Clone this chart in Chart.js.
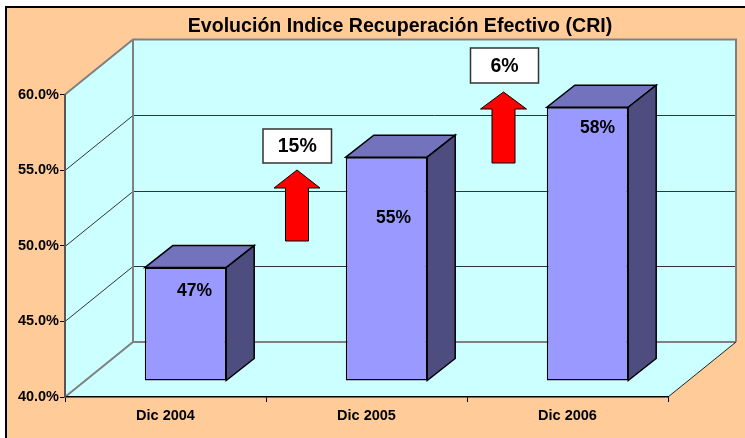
<!DOCTYPE html>
<html><head><meta charset="utf-8">
<style>html,body{margin:0;padding:0;background:#fff}canvas{display:block}</style>
<script src="https://cdn.jsdelivr.net/npm/chart.js@4"></script>
</head><body>
<canvas id="c" width="745" height="438"></canvas>
<script>
const chartTitle = 'Evolución Indice Recuperación Efectivo (CRI)';
const categories = ['Dic 2004', 'Dic 2005', 'Dic 2006'];
const values = [47.5, 54.8, 58.1];
const valueLabels = ['47%', '55%', '58%'];
const growthLabels = ['15%', '6%'];
const axisMin = 40;
const axisMax = 60;

const FONT = 'Arial, "Liberation Sans", sans-serif';
const WALL = {dx: 68, dy: -55};
const FRONT = {dx: 20, dy: -16};
const DEPTH = {dx: 28, dy: -22};
const LABEL_OFFSETS = [{x: 9, y: 24}, {x: 7, y: 61}, {x: 10, y: 21}];
const CALLOUTS = [
  {box: [263, 129, 68.5, 34], tip: [297, 170], head: 23, base: 188, shaft: 11.5, bottom: 241},
  {box: [470.5, 48, 68, 35], tip: [503.5, 92], head: 23, base: 109, shaft: 11.5, bottom: 163}
];

function poly(ctx, pts) {
  ctx.beginPath();
  pts.forEach((p, i) => i ? ctx.lineTo(p[0], p[1]) : ctx.moveTo(p[0], p[1]));
  ctx.closePath();
}

const scene = {
  id: 'scene',
  afterLayout(chart) {
    chart.titleBlock.left = 55;
    chart.titleBlock.right = 745;
  },
  beforeDraw(chart) {
    const {ctx, width, height, chartArea: a, scales: {y}} = chart;
    ctx.save();
    ctx.fillStyle = '#fff'; ctx.fillRect(0, 0, width, height);
    ctx.fillStyle = '#FFCC99'; ctx.fillRect(5, 6, width - 5, height - 6);
    ctx.fillStyle = '#000';
    ctx.fillRect(5, 6, width - 5, 2);
    ctx.fillRect(5, 6, 2, height - 6);

    const L = a.left, R = a.right, T = a.top, B = a.bottom;
    const bL = L + WALL.dx, bR = R + WALL.dx, bT = T + WALL.dy, bB = B + WALL.dy;
    ctx.fillStyle = '#CCFFFF';
    poly(ctx, [[bL, bT], [bR, bT], [bR, bB], [R, B], [L, B], [L, T]]);
    ctx.fill();

    // grid lines on side and back walls
    ctx.strokeStyle = '#333'; ctx.lineWidth = 1;
    y.ticks.forEach(t => {
      if (t.value === y.min || t.value === y.max) return;
      const py = Math.round(y.getPixelForValue(t.value));
      ctx.beginPath();
      ctx.moveTo(L, py + .5);
      ctx.lineTo(bL, py + WALL.dy + .5);
      ctx.lineTo(bR, py + WALL.dy + .5);
      ctx.stroke();
    });
    // wall frame
    ctx.strokeStyle = '#808080'; ctx.lineWidth = 2;
    ctx.beginPath();
    ctx.moveTo(L, B); ctx.lineTo(bL, bB); ctx.lineTo(bR, bB);
    ctx.moveTo(L, T); ctx.lineTo(bL, bT); ctx.lineTo(bR, bT); ctx.lineTo(bR, bB);
    ctx.moveTo(bL, bT); ctx.lineTo(bL, bB);
    ctx.stroke();
    ctx.strokeStyle = '#222'; ctx.lineWidth = 1;
    ctx.beginPath(); ctx.moveTo(R, B); ctx.lineTo(bR, bB); ctx.stroke();
    ctx.restore();
  },
  beforeDatasetsDraw(chart) {
    chart.ctx.save();
    chart.ctx.translate(FRONT.dx, FRONT.dy);
  },
  afterDatasetsDraw(chart) {
    const ctx = chart.ctx;
    const bars = chart.getDatasetMeta(0).data;
    ctx.lineWidth = 1.5; ctx.strokeStyle = '#000'; ctx.lineJoin = 'miter';
    bars.forEach(b => {
      const p = b.getProps(['x', 'y', 'base', 'width'], true);
      const l = p.x - p.width / 2, r = p.x + p.width / 2;
      ctx.fillStyle = '#7373BD';
      poly(ctx, [[l, p.y], [l + DEPTH.dx, p.y + DEPTH.dy], [r + DEPTH.dx, p.y + DEPTH.dy], [r, p.y]]);
      ctx.fill(); ctx.stroke();
      ctx.fillStyle = '#4D4D7F';
      poly(ctx, [[r, p.y], [r + DEPTH.dx, p.y + DEPTH.dy], [r + DEPTH.dx, p.base + DEPTH.dy], [r, p.base]]);
      ctx.fill(); ctx.stroke();
    });
    ctx.restore();

    ctx.save();
    ctx.fillStyle = '#000';
    ctx.textAlign = 'center'; ctx.textBaseline = 'middle';
    ctx.font = 'bold 17.5px ' + FONT;
    bars.forEach((b, i) => {
      const p = b.getProps(['x', 'y'], true);
      ctx.fillText(valueLabels[i], p.x + FRONT.dx + LABEL_OFFSETS[i].x, p.y + FRONT.dy + LABEL_OFFSETS[i].y);
    });
    CALLOUTS.forEach((c, i) => {
      const [tx, ty] = c.tip;
      ctx.fillStyle = '#FF0000'; ctx.strokeStyle = '#000'; ctx.lineWidth = 1;
      poly(ctx, [[tx, ty], [tx + c.head, c.base], [tx + c.shaft, c.base], [tx + c.shaft, c.bottom],
                 [tx - c.shaft, c.bottom], [tx - c.shaft, c.base], [tx - c.head, c.base]]);
      ctx.fill(); ctx.stroke();
      const [x, y, w, h] = c.box;
      ctx.fillStyle = '#fff'; ctx.fillRect(x, y, w, h);
      ctx.strokeStyle = '#333'; ctx.lineWidth = 1.5; ctx.strokeRect(x, y, w, h);
      ctx.fillStyle = '#000';
      ctx.font = 'bold 19.5px ' + FONT;
      ctx.fillText(growthLabels[i], x + w / 2, y + h / 2 + 1);
    });
    ctx.restore();
  }
};

new Chart(document.getElementById('c'), {
  type: 'bar',
  data: {
    labels: categories,
    datasets: [{
      data: values,
      base: axisMin,
      backgroundColor: '#9999FF',
      borderColor: '#000',
      borderWidth: 1.5,
      borderSkipped: false,
      categoryPercentage: 1,
      barPercentage: 0.405
    }]
  },
  plugins: [scene],
  options: {
    responsive: false,
    animation: false,
    events: [],
    layout: {padding: {top: 0, left: 0, right: 77, bottom: 0}},
    plugins: {
      legend: {display: false},
      tooltip: {enabled: false},
      title: {
        display: true,
        text: chartTitle,
        color: '#000',
        font: {family: FONT, size: 19.6, weight: 'bold', lineHeight: 1.2},
        padding: {top: 14.5, bottom: 56.5}
      }
    },
    scales: {
      x: {
        afterFit(s) { s.height = 41; },
        grid: {drawOnChartArea: false, drawTicks: true, tickLength: 5, color: '#000', offset: true},
        border: {color: '#000', width: 1.5},
        ticks: {color: '#000', padding: 5, maxRotation: 0, font: {family: FONT, size: 14.5, weight: 'bold'}}
      },
      y: {
        min: axisMin, max: axisMax,
        afterFit(s) { s.width = 65; },
        grid: {drawOnChartArea: false, drawTicks: true, tickLength: 5, color: '#000'},
        border: {color: '#555', width: 2},
        ticks: {
          stepSize: 5, color: '#000', padding: 1,
          font: {family: FONT, size: 14.5, weight: 'bold'},
          callback: v => v.toFixed(1) + '%'
        }
      }
    }
  }
});
</script>
</body></html>
